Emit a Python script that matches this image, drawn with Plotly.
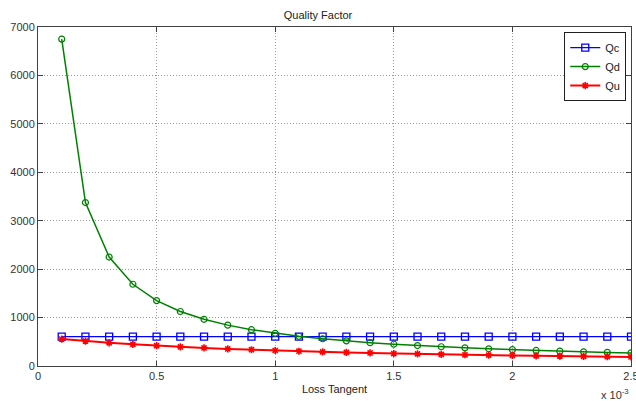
import plotly.graph_objects as go

# Loss tangent (units of 1e-3)
loss_tangent = [0.1, 0.2, 0.3, 0.4, 0.5, 0.6, 0.7, 0.8, 0.9, 1.0,
                1.1, 1.2, 1.3, 1.4, 1.5, 1.6, 1.7, 1.8, 1.9, 2.0,
                2.1, 2.2, 2.3, 2.4, 2.5]
qc = [607] * 25
qd = [6750, 3375, 2250, 1688, 1350, 1125, 964, 844, 750, 675,
      614, 563, 519, 482, 450, 422, 397, 375, 355, 338,
      321, 307, 293, 281, 270]
qu = [557, 515, 478, 447, 419, 394, 373, 353, 336, 320,
      305, 292, 280, 269, 258, 249, 240, 232, 224, 217,
      210, 204, 198, 192, 187]

x_ticks = [0, 0.5, 1, 1.5, 2, 2.5]
x_ticklabels = ["0", "0.5", "1", "1.5", "2", "2.5"]
y_ticks = [0, 1000, 2000, 3000, 4000, 5000, 6000, 7000]

font = "Liberation Sans, Arial, sans-serif"

fig = go.Figure()
fig.add_trace(go.Scatter(x=loss_tangent, y=qc, name="Qc", mode="lines+markers",
                         line=dict(color="#0000ff", width=1.3),
                         marker=dict(symbol="square-open", size=7, color="#0000ff",
                                     line=dict(width=1.3, color="#0000ff"))))
fig.add_trace(go.Scatter(x=loss_tangent, y=qd, name="Qd", mode="lines+markers",
                         line=dict(color="#008000", width=1.5),
                         marker=dict(symbol="circle-open", size=6, color="#008000",
                                     line=dict(width=1.2, color="#008000"))))
fig.add_trace(go.Scatter(x=loss_tangent, y=qu, name="Qu", mode="lines+markers",
                         line=dict(color="#ff0000", width=2),
                         marker=dict(symbol="asterisk-open", size=6, color="#ff0000",
                                     line=dict(width=1.6, color="#ff0000"))))

axis_common = dict(showline=True, linecolor="#404040", linewidth=1, mirror="ticks",
                   ticks="inside", ticklen=5, tickcolor="#404040", automargin=False,
                   showgrid=True, gridcolor="#9a9a9a", griddash="1px,2px", gridwidth=1,
                   zeroline=False, tickfont=dict(family=font, size=11, color="#333333"))

fig.update_layout(
    width=636, height=401,
    margin=dict(l=38, r=5, t=27, b=35),
    paper_bgcolor="white", plot_bgcolor="white",
    font=dict(family=font, size=11, color="#333333"),
    title=dict(text="Quality Factor", x=0.5, xanchor="center", y=1 - 15 / 401, yanchor="middle",
               font=dict(family=font, size=11, color="#222222")),
    xaxis=dict(range=[0, 2.5], tickvals=x_ticks, ticktext=x_ticklabels,
               ticklabeloverflow="allow",
               title=dict(text="Loss Tangent", standoff=4, font=dict(family=font, size=11, color="#222222")),
               **axis_common),
    yaxis=dict(range=[0, 7000], tickvals=y_ticks, **axis_common),
    legend=dict(x=0.992, y=0.985, xanchor="right", yanchor="top",
                bgcolor="white", bordercolor="#202020", borderwidth=1,
                font=dict(family=font, size=11, color="#222222"),
                tracegroupgap=0, itemwidth=30),
    showlegend=True,
)

fig.add_annotation(x=1, y=0, xref="paper", yref="paper", xanchor="right", yanchor="top",
                   yshift=-19, text="x 10<sup>-3</sup>", showarrow=False,
                   font=dict(family=font, size=11, color="#333333"))

fig.write_html("out.html")
